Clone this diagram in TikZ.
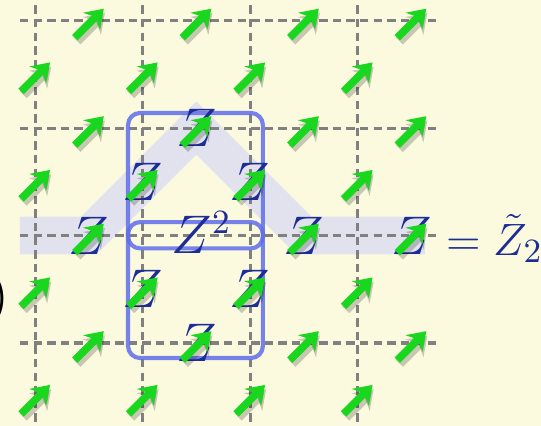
\documentclass[tikz,border=0pt]{standalone}
\usepackage{tikz}
\usepackage{amsmath}
\usetikzlibrary{arrows.meta, positioning}

\definecolor{paper}{RGB}{251,249,222}
\definecolor{spingreen}{RGB}{25,215,30}
\definecolor{plaqblue}{RGB}{95,110,235}
\definecolor{zblue}{RGB}{30,45,150}
\definecolor{bandgray}{RGB}{224,224,240}
\definecolor{gridgray}{RGB}{128,128,128}

\begin{document}
\begin{tikzpicture}[thick]

	\tikzset{
		gridline/.style={
				draw=gridgray, line width=0.8pt, dash pattern=on 2.2pt off 1.4pt
			},
		spin/.style={
				draw=spingreen, line width=2pt, -{Stealth[length=4.6pt, width=6.2pt]}
			},
		spinshadow/.style={
				draw=black, opacity=0.2, line width=2.6pt, -{Stealth[length=4.8pt, width=6.6pt]}
			},
		zop/.style={
				text=zblue, inner sep=0pt, font=\fontsize{13.5}{16}\selectfont
			},
		plaq/.style={
				draw=plaqblue, opacity=0.85, line width=1.1pt, rounded corners=3.2pt
			},
		band/.style={
				draw=bandgray, opacity=0.9, line width=0.35cm, line join=miter
			},
	}
	\useasboundingbox[fill=paper] (-0.326,-0.772) rectangle (4.707,3.191);

	% string of Z's
	\draw[band] (-0.14,1) -- (0.5,1) -- (1.5,2) -- (2.5,1) -- (3.63,1);

	% lattice
	\foreach \y in {0,...,3}
		\draw[gridline] (-0.14,\y) -- (3.77,\y);
	\foreach \x in {0,...,3}
		\draw[gridline] (\x,3.14) -- (\x,-0.8);

	% plaquettes
	\draw[plaq] (0.865,0.88) rectangle (2.12,2.14);
	\draw[plaq] (0.865,-0.14) rectangle (2.12,1.125);

	\node[zop](z1) at (1.5,2){$Z$};
	\node[zop](z2) at (1,1.5){$Z$};
	\node[zop](z3) at (2,1.5){$Z$};
	\node[zop](z4) at (0.5,1){$Z$};
	\node[zop](z5) at (1.55,1.03){$Z^2$};
	\node[zop](z6) at (2.5,1){$Z$};
	\node[zop](z7) at (3.5,1){$Z$};
	\node[zop](z8) at (1,0.5){$Z$};
	\node[zop](z9) at (2,0.5){$Z$};
	\node[zop](z10) at (1.5,0){$Z$};

	% spins on the links
	\foreach \x/\y in {0.5/0, 1.5/0, 2.5/0, 3.5/0, 0.5/1, 2.5/1, 3.5/1,
			0.5/2, 1.5/2, 2.5/2, 3.5/2, 0.5/3, 1.5/3, 2.5/3, 3.5/3,
			0/-0.5, 1/-0.5, 2/-0.5, 3/-0.5, 0/0.5, 1/0.5, 2/0.5, 3/0.5,
			0/1.5, 1/1.5, 2/1.5, 3/1.5, 0/2.5, 1/2.5, 2/2.5, 3/2.5}
		{
			\draw[spinshadow] ([shift={(-0.11,-0.19)}]\x,\y) -- ([shift={(0.15,0.07)}]\x,\y);
			\draw[spin] ([shift={(-0.13,-0.16)}]\x,\y) -- ([shift={(0.14,0.11)}]\x,\y);
		}

	\node[zop, font=\fontsize{12.5}{15}\selectfont, anchor=base west](res) at (3.81,0.81){$=\tilde{Z}_2$};
	\node[zop, text=black, anchor=east](paren) at (-0.23,0.41){$)$};

\end{tikzpicture}
\end{document}
